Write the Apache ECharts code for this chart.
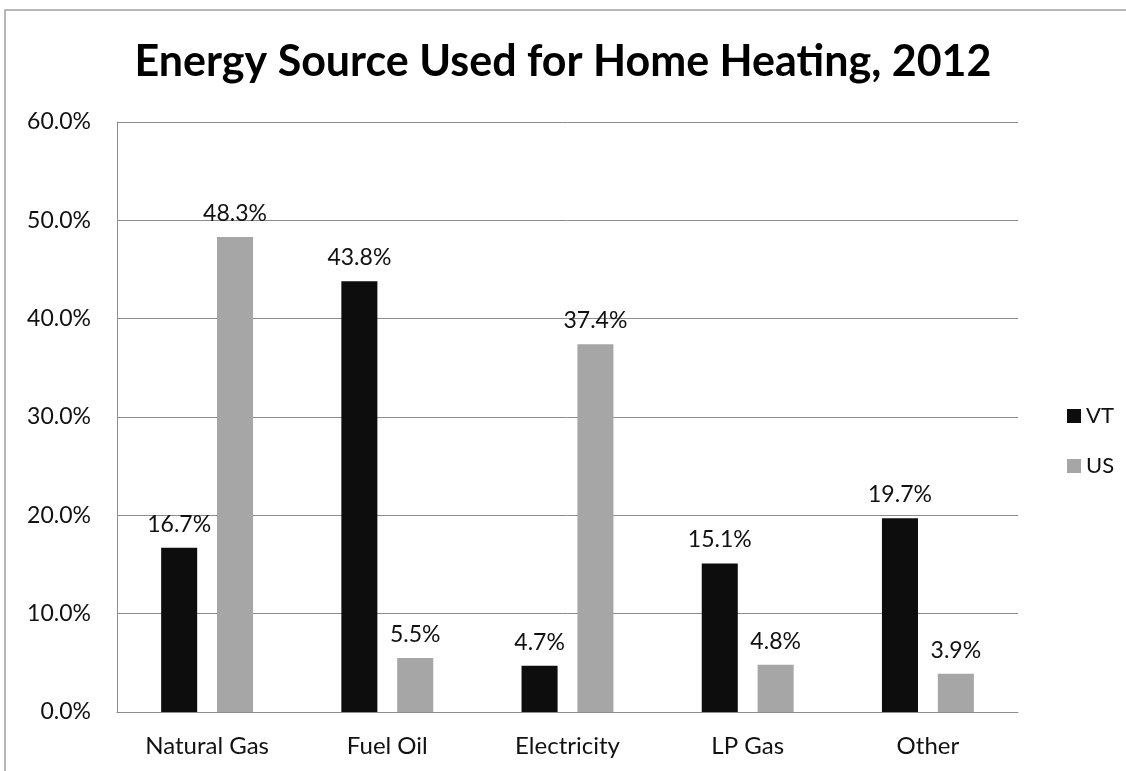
<!DOCTYPE html>
<html><head><meta charset="utf-8">
<script src="https://cdn.jsdelivr.net/npm/echarts@6/dist/echarts.min.js"></script>
<style>html,body{margin:0;padding:0;background:#fff}#c{width:1126px;height:771px}</style>
</head><body><div id="c"></div>
<script>
const categories = ['Natural Gas', 'Fuel Oil', 'Electricity', 'LP Gas', 'Other'];
const vtValues = [16.7, 43.8, 4.7, 15.1, 19.7];
const usValues = [48.3, 5.5, 37.4, 4.8, 3.9];
const seriesNames = ['VT', 'US'];
const titleText = 'Energy Source Used for Home Heating, 2012';
const FONT = 'Lato, "Open Sans", sans-serif';
const chart = echarts.init(document.getElementById('c'));
const labelCfg = {show: true, position: 'top', distance: 12, color: '#111', fontSize: 23, fontFamily: FONT,
  formatter: p => p.value.toFixed(1) + '%'};
chart.setOption({
  animation: false,
  backgroundColor: '#fff',
  title: {text: titleText, left: 'center', top: 36,
    textStyle: {fontFamily: FONT, fontWeight: 'bold', fontSize: 43, color: '#000'}},
  graphic: [{type: 'polyline', shape: {points: [[5, 771], [5, 10], [1126, 10]]},
    style: {stroke: '#a0a0a0', lineWidth: 1.5, fill: null}}],
  legend: {orient: 'vertical', left: 1062, top: 400, itemWidth: 14, itemHeight: 14, itemGap: 28,
    icon: 'rect', textStyle: {fontFamily: FONT, fontSize: 22, color: '#111'}},
  grid: {left: 117, right: 108, top: 122, bottom: 59},
  xAxis: {type: 'category', data: categories,
    axisLine: {lineStyle: {color: '#8c8c8c', width: 1}}, axisTick: {show: false},
    axisLabel: {fontFamily: FONT, fontSize: 24, color: '#111', margin: 22}},
  yAxis: {type: 'value', min: 0, max: 60, interval: 10,
    axisLine: {show: true, lineStyle: {color: '#8c8c8c', width: 1}}, axisTick: {show: false},
    splitLine: {lineStyle: {color: '#8c8c8c', width: 1}},
    axisLabel: {fontFamily: FONT, fontSize: 23, color: '#111', margin: 26,
      formatter: v => v.toFixed(1) + '%'}},
  series: [
    {name: seriesNames[0], type: 'bar', data: vtValues, barWidth: '20%', barGap: '55%',
      itemStyle: {color: '#0d0d0d'}, label: labelCfg},
    {name: seriesNames[1], type: 'bar', data: usValues, barWidth: '20%', barGap: '55%',
      itemStyle: {color: '#a6a6a6'}, label: labelCfg}
  ]
});
</script></body></html>
